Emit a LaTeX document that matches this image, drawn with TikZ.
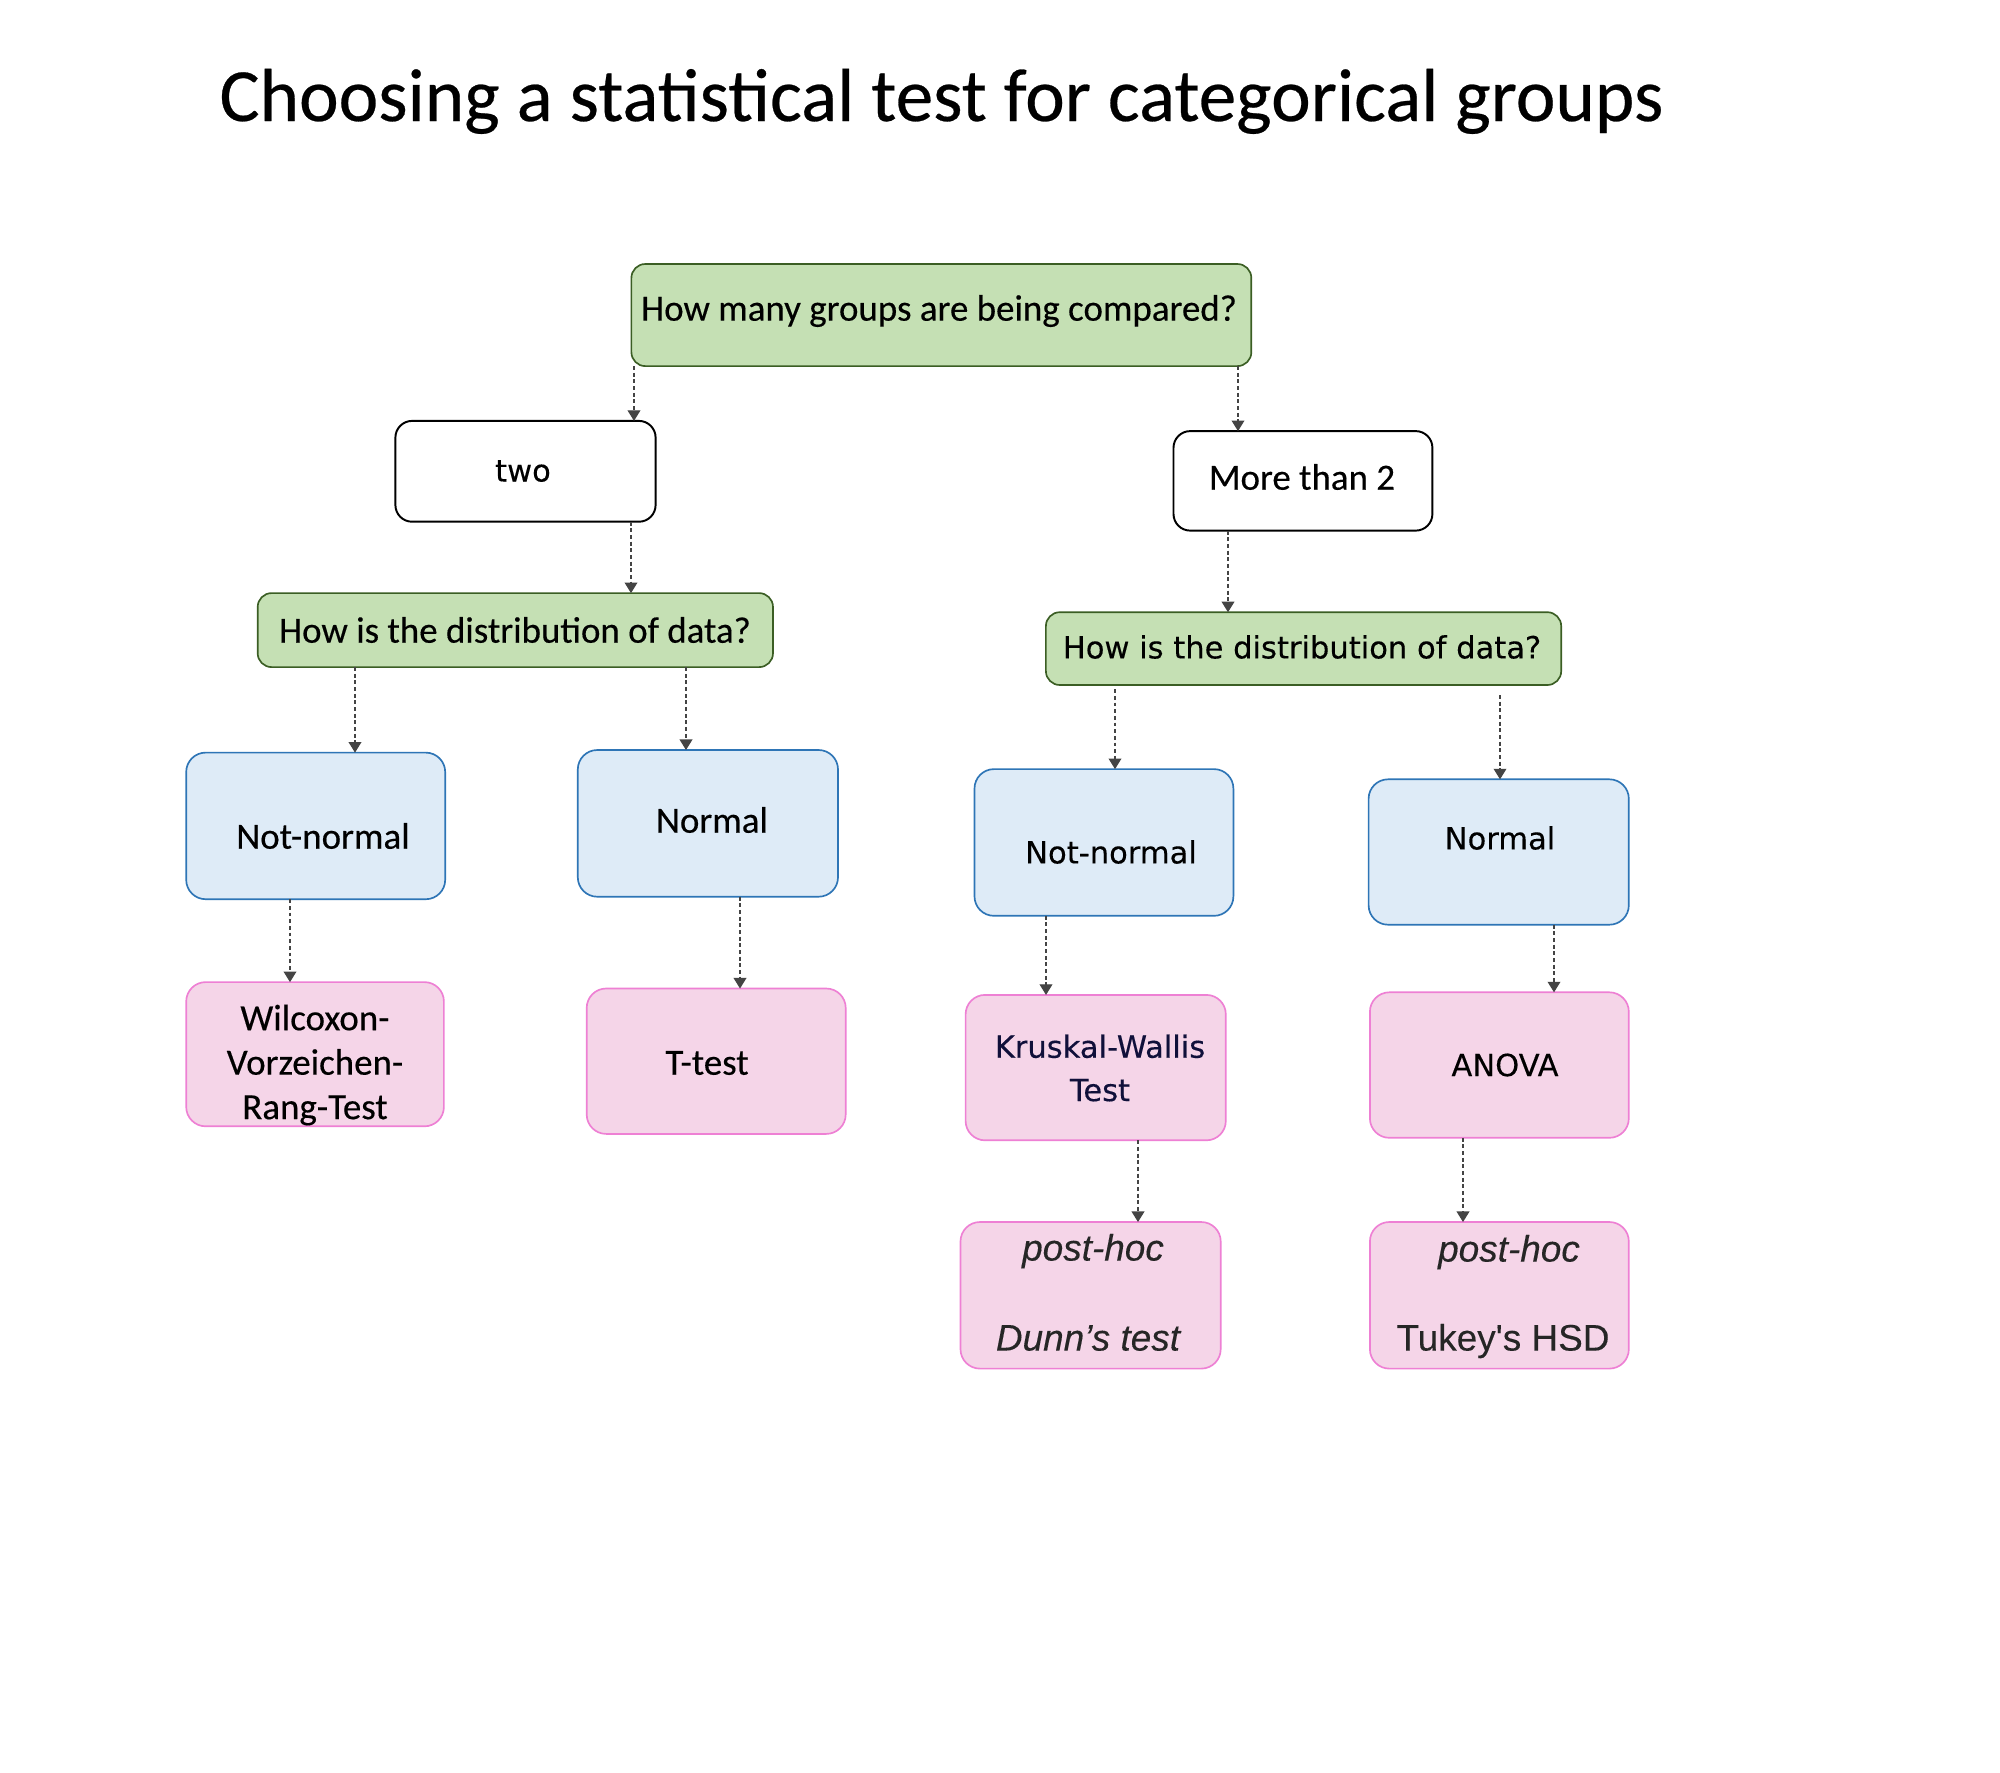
\documentclass[tikz,border=0pt]{standalone}
\usepackage{fontspec}
\setmainfont{Carlito}[FakeBold=0.35]
\newfontfamily\lucidaf{DejaVu Sans}[FakeBold=0.25]
\newfontfamily\arialf{Liberation Sans}[FakeBold=0.2]
\usetikzlibrary{arrows.meta}
\definecolor{gfill}{HTML}{C5E0B4}
\definecolor{gdraw}{HTML}{3B5E24}
\definecolor{bfill}{HTML}{DEEBF7}
\definecolor{bdraw}{HTML}{2E75B6}
\definecolor{pfill}{HTML}{F5D5E8}
\definecolor{pdraw}{HTML}{EE80D4}
\definecolor{arrc}{HTML}{444444}
\definecolor{navy}{HTML}{10103A}
\newcommand\mybox[6]{\node[#2, minimum width={(#5-#3)*0.36pt}, minimum height={(#6-#4)*0.36pt}] (#1) at ({(#3+#5)/2},{(#4+#6)/2}) {};}
\begin{document}
\begin{tikzpicture}[x=0.36pt,y=-0.36pt,
  basebox/.style={rectangle, inner sep=0pt, outer sep=0pt},
  qbox/.style={basebox, fill=gfill, draw=gdraw, line width=0.6pt, rounded corners=5pt},
  wbox/.style={basebox, fill=white, draw=black, line width=0.7pt, rounded corners=6pt},
  bbox/.style={basebox, fill=bfill, draw=bdraw, line width=0.6pt, rounded corners=7pt},
  pbox/.style={basebox, fill=pfill, draw=pdraw, line width=0.6pt, rounded corners=7pt},
  cal/.style={font=\fontsize{13.3pt}{16pt}\selectfont, inner sep=0pt, align=center},
  luc/.style={font=\lucidaf\fontsize{11pt}{15.6pt}\selectfont, inner sep=0pt, align=center},
  ari/.style={font=\arialf\fontsize{13.3pt}{16pt}\selectfont, inner sep=0pt, text=black!85},
  arii/.style={font=\arialf\itshape\fontsize{13.3pt}{16pt}\selectfont, inner sep=0pt, text=black!85},
  conn/.style={draw=arrc, line width=0.4pt, dash pattern=on 1.4pt off 1pt,
    -{Triangle[width=4.6pt,length=3.8pt]}}
]
\useasboundingbox (0,0) rectangle (2000,1772);
\fill[white] (0,0) rectangle (2000,1772);

\node[anchor=base west, font=\fontsize{27.05pt}{32pt}\selectfont, inner sep=0pt] (title) at (219,121)
  {Choosing a statistical test for categorical groups};

\mybox{top}{qbox}{631.4}{264}{1251.3}{366.1}
\mybox{two}{wbox}{395.4}{420.9}{655.6}{521.7}
\mybox{more}{wbox}{1173.5}{431.1}{1432.4}{530.6}
\mybox{ldist}{qbox}{257.7}{593.1}{773}{667.1}
\mybox{rdist}{qbox}{1045.9}{612.2}{1561.2}{685}
\mybox{nnL}{bbox}{186.2}{752.6}{445.2}{899.2}
\mybox{nL}{bbox}{577.8}{750}{838}{896.7}
\mybox{nnR}{bbox}{974.5}{769.1}{1233.4}{915.8}
\mybox{nR}{bbox}{1368.6}{779.3}{1628.8}{924.7}
\mybox{wil}{pbox}{186.2}{982.1}{443.9}{1126.3}
\mybox{tt}{pbox}{586.7}{988.5}{845.7}{1133.9}
\mybox{kw}{pbox}{965.6}{994.9}{1225.8}{1140.3}
\mybox{an}{pbox}{1369.9}{992.3}{1628.8}{1137.8}
\mybox{dunn}{pbox}{960.5}{1222}{1220.7}{1368.6}
\mybox{tuk}{pbox}{1369.9}{1222}{1628.8}{1368.6}

\node[cal] (top-t) at (939,311) {How many groups are being compared?};
\node[luc] (two-t) at (523,471) {two};
\node[cal] (more-t) at (1302,477) {More than 2};
\node[cal] (ldist-t) at (515,630) {How is the distribution of data?};
\node[luc] (rdist-t) at (1302,647) {How is the distribution of data?};
\node[cal] (nnL-t) at (323,836) {Not-normal};
\node[cal] (nL-t) at (712,820) {Normal};
\node[luc] (nnR-t) at (1111,852) {Not-normal};
\node[luc] (nR-t) at (1500,838) {Normal};
\node[cal] (wil-t) at (315,1065) {Wilcoxon-\\Vorzeichen-\\Rang-Test};
\node[cal] (tt-t) at (707,1063) {T-test};
\node[luc, text=navy] (kw-t) at (1100,1068) {Kruskal-Wallis\\Test};
\node[luc] (an-t) at (1505,1065) {ANOVA};
\node[arii] (dunn-a) at (1093,1251) {post-hoc};
\node[arii] (dunn-b) at (1088,1338) {Dunn’s test};
\node[arii] (tuk-a) at (1509,1252) {post-hoc};
\node[ari] (tuk-b) at (1503,1341) {Tukey's HSD};

\draw[conn] (top.south -| 634,0) -- (two.north -| 634,0);
\draw[conn] (top.south -| 1238,0) -- (more.north -| 1238,0);
\draw[conn] (two.south -| 631,0) -- (ldist.north -| 631,0);
\draw[conn] (more.south -| 1228,0) -- (rdist.north -| 1228,0);
\draw[conn] (ldist.south -| 355,0) -- (nnL.north -| 355,0);
\draw[conn] (ldist.south -| 686,0) -- (nL.north -| 686,0);
\draw[conn, shorten <=1.5pt] (rdist.south -| 1115,0) -- (nnR.north -| 1115,0);
\draw[conn, shorten <=3.6pt] (rdist.south -| 1500,0) -- (nR.north -| 1500,0);
\draw[conn] (nnL.south -| 290,0) -- (wil.north -| 290,0);
\draw[conn] (nL.south -| 740,0) -- (tt.north -| 740,0);
\draw[conn] (nnR.south -| 1046,0) -- (kw.north -| 1046,0);
\draw[conn] (nR.south -| 1554,0) -- (an.north -| 1554,0);
\draw[conn] (kw.south -| 1138,0) -- (dunn.north -| 1138,0);
\draw[conn] (an.south -| 1463,0) -- (tuk.north -| 1463,0);
\end{tikzpicture}
\end{document}
